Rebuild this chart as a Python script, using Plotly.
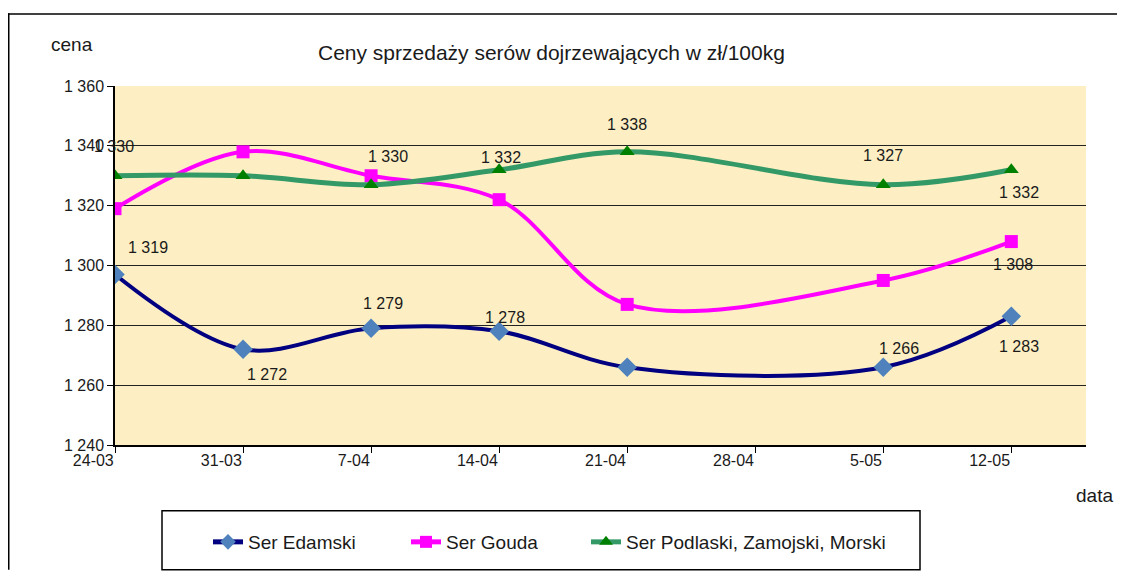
import plotly.graph_objects as go

# ---- data ----
dates = ["2008-03-24", "2008-03-31", "2008-04-07", "2008-04-14",
         "2008-04-21", "2008-05-05", "2008-05-12"]
edamski = [1297, 1272, 1279, 1278, 1266, 1266, 1283]
gouda = [1319, 1338, 1330, 1322, 1287, 1295, 1308]
podlaski = [1330, 1330, 1327, 1332, 1338, 1327, 1332]
series_names = ["Ser Edamski", "Ser Gouda", "Ser Podlaski, Zamojski, Morski"]
title_text = "Ceny sprzedaży serów dojrzewających w zł/100kg"
y_label = "cena"
x_label = "data"

# ---- layout geometry (page pixels; the page body has an 8px margin) ----
OFF = 8
W, H = 1126 - 2 * OFF, 580 - 2 * OFF      # fits the window exactly
L, R, T, B = 115, 1086, 86, 446          # plot area in page pixels
pw, ph = R - L, B - T


def px(x):
    return (x - L) / pw


def py(y):
    return (B - y) / ph


FONT = "Liberation Sans, Arial, sans-serif"
TXT = "#1a1a1a"

fig = go.Figure()

fig.add_trace(go.Scatter(
    x=dates, y=edamski, name=series_names[0], mode="lines+markers",
    line=dict(color="#000080", width=4, shape="spline", smoothing=1),
    marker=dict(symbol="diamond", size=15, color="#4F81BD"),
    legend="legend"))
fig.add_trace(go.Scatter(
    x=dates, y=gouda, name=series_names[1], mode="lines+markers",
    line=dict(color="#FF00FF", width=4, shape="spline", smoothing=1),
    marker=dict(symbol="square", size=13, color="#FF00FF"),
    legend="legend2"))
fig.add_trace(go.Scatter(
    x=dates, y=podlaski, name=series_names[2], mode="lines+markers",
    line=dict(color="#339966", width=5, shape="spline", smoothing=1),
    marker=dict(symbol="triangle-up", size=13, color="#008000"),
    legend="legend3"))


def fmt(v):
    return f"{v:,}".replace(",", " ")


# (series values, index, xshift, yshift) for the visible data labels
label_specs = [
    (podlaski, 0, -1, 29),
    (gouda, 0, 33, -39),
    (gouda, 2, 17, 19),
    (podlaski, 3, 2, 12),
    (podlaski, 4, 0, 27),
    (podlaski, 5, 0, 29),
    (podlaski, 6, 8, -23),
    (gouda, 6, 2, -23),
    (edamski, 1, 24, -25),
    (edamski, 2, 12, 25),
    (edamski, 3, 6, 14),
    (edamski, 5, 16, 19),
    (edamski, 6, 8, -30),
]
annotations = []
for vals, i, dx, dy in label_specs:
    annotations.append(dict(
        x=dates[i], y=vals[i], xref="x", yref="y", text=fmt(vals[i]),
        showarrow=False, xshift=dx, yshift=dy,
        font=dict(family=FONT, size=16, color=TXT)))

annotations += [
    dict(x=px(551), y=py(52), xref="paper", yref="paper", text=title_text,
         showarrow=False, xanchor="center", yanchor="middle",
         font=dict(family=FONT, size=21, color=TXT)),
    dict(x=px(72), y=py(44), xref="paper", yref="paper", text=y_label,
         showarrow=False, xanchor="center", yanchor="middle",
         font=dict(family=FONT, size=19, color=TXT)),
    dict(x=px(1094), y=py(497), xref="paper", yref="paper", text=x_label,
         showarrow=False, xanchor="center", yanchor="middle",
         font=dict(family=FONT, size=19, color=TXT)),
]

shapes = [
    # outer chart border: thin filled bars kept inside the figure bounds
    dict(type="rect", xref="paper", yref="paper",
         x0=px(OFF), x1=px(OFF + W - 1), y0=py(14.5), y1=py(13),
         line=dict(width=0), fillcolor="black", layer="above"),
    dict(type="rect", xref="paper", yref="paper",
         x0=px(OFF), x1=px(OFF + 1.5), y0=py(OFF + H - 1), y1=py(13),
         line=dict(width=0), fillcolor="black", layer="above"),
    # legend box
    dict(type="rect", xref="paper", yref="paper",
         x0=px(162), x1=px(920), y0=py(571), y1=py(512),
         line=dict(color="black", width=1.5), fillcolor="white",
         layer="below"),
]

leg_common = dict(orientation="h", yanchor="middle", xanchor="left",
                  y=py(542), bgcolor="rgba(0,0,0,0)", itemsizing="constant",
                  font=dict(family=FONT, size=19, color=TXT))

fig.update_layout(
    width=W, height=H,
    margin=dict(l=L - OFF, r=(OFF + W) - R, t=T - OFF, b=(OFF + H) - B,
                pad=0),
    paper_bgcolor="white",
    plot_bgcolor="#FDEFC3",
    separators=", ",
    font=dict(family=FONT, size=16, color=TXT),
    showlegend=True,
    legend=dict(x=px(208), **leg_common),
    legend2=dict(x=px(406), **leg_common),
    legend3=dict(x=px(586), **leg_common),
    annotations=annotations,
    shapes=shapes,
    xaxis=dict(
        type="date",
        range=["2008-03-24", "2008-05-16 02:00"],
        tick0="2008-03-24", dtick=7 * 24 * 3600 * 1000,
        tickformat="%-d-%m",
        ticks="outside", ticklen=6, tickcolor="black", tickwidth=1,
        ticklabelposition="outside left",
        showline=True, linecolor="black", linewidth=1.5,
        showgrid=False, zeroline=False,
        tickfont=dict(family=FONT, size=16, color=TXT),
    ),
    yaxis=dict(
        range=[1240, 1360], dtick=20, tick0=1240,
        tickformat=",d",
        ticks="outside", ticklen=6, tickcolor="black", tickwidth=1,
        showline=True, linecolor="black", linewidth=1.5,
        showgrid=True, gridcolor="#222222", gridwidth=1,
        zeroline=False,
        tickfont=dict(family=FONT, size=16, color=TXT),
    ),
)

fig.write_html("out.html")
